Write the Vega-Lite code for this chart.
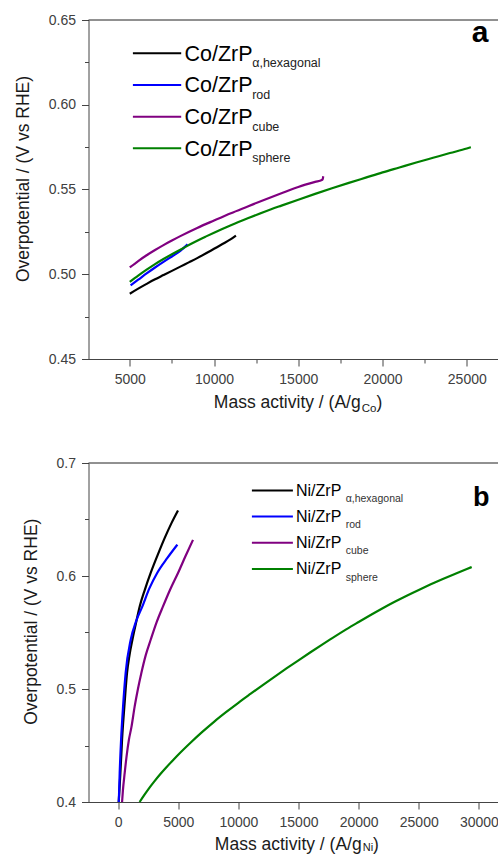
{
  "$schema": "https://vega.github.io/schema/vega-lite/v6.json",
  "padding": {"left": 13.5, "top": 13, "right": 0, "bottom": 0},
  "spacing": 41,
  "config": {
    "view": {"stroke": null},
    "font": "Liberation Sans",
    "axis": {
      "grid": false,
      "labelFont": "Liberation Sans",
      "labelFontSize": 14,
      "labelColor": "#404040",
      "labelPadding": 6,
      "labelFlush": false,
      "labelOverlap": false,
      "domainColor": "#444444",
      "tickColor": "#444444",
      "titleFont": "Liberation Sans",
      "titleFontSize": 17.5,
      "titleFontWeight": "normal",
      "titleColor": "#1a1a1a",
      "titlePadding": 16
    }
  },
  "datasets": {
    "one": [{}],
    "curvesA": [
      {"sample": "hexagonal", "mass": 5000, "eta": 0.4885},
      {"sample": "hexagonal", "mass": 5500, "eta": 0.4915},
      {"sample": "hexagonal", "mass": 6000, "eta": 0.4943},
      {"sample": "hexagonal", "mass": 6500, "eta": 0.497},
      {"sample": "hexagonal", "mass": 7000, "eta": 0.4995},
      {"sample": "hexagonal", "mass": 7500, "eta": 0.502},
      {"sample": "hexagonal", "mass": 8000, "eta": 0.5045},
      {"sample": "hexagonal", "mass": 8500, "eta": 0.507},
      {"sample": "hexagonal", "mass": 9000, "eta": 0.5095},
      {"sample": "hexagonal", "mass": 9500, "eta": 0.5122},
      {"sample": "hexagonal", "mass": 10000, "eta": 0.515},
      {"sample": "hexagonal", "mass": 10500, "eta": 0.5178},
      {"sample": "hexagonal", "mass": 11000, "eta": 0.5207},
      {"sample": "hexagonal", "mass": 11300, "eta": 0.5228},
      {"sample": "rod", "mass": 5050, "eta": 0.4935},
      {"sample": "rod", "mass": 5500, "eta": 0.4968},
      {"sample": "rod", "mass": 6000, "eta": 0.5005},
      {"sample": "rod", "mass": 6500, "eta": 0.504},
      {"sample": "rod", "mass": 7000, "eta": 0.5073},
      {"sample": "rod", "mass": 7500, "eta": 0.5105},
      {"sample": "rod", "mass": 8000, "eta": 0.5138},
      {"sample": "rod", "mass": 8430, "eta": 0.5176},
      {"sample": "cube", "mass": 5000, "eta": 0.504},
      {"sample": "cube", "mass": 5500, "eta": 0.5078},
      {"sample": "cube", "mass": 6000, "eta": 0.5112},
      {"sample": "cube", "mass": 6500, "eta": 0.5143},
      {"sample": "cube", "mass": 7000, "eta": 0.5172},
      {"sample": "cube", "mass": 7500, "eta": 0.5199},
      {"sample": "cube", "mass": 8000, "eta": 0.5225},
      {"sample": "cube", "mass": 9000, "eta": 0.5273},
      {"sample": "cube", "mass": 10000, "eta": 0.5317},
      {"sample": "cube", "mass": 11000, "eta": 0.536},
      {"sample": "cube", "mass": 12000, "eta": 0.54},
      {"sample": "cube", "mass": 13000, "eta": 0.544},
      {"sample": "cube", "mass": 14000, "eta": 0.5478},
      {"sample": "cube", "mass": 15000, "eta": 0.5515},
      {"sample": "cube", "mass": 16000, "eta": 0.5545},
      {"sample": "cube", "mass": 16400, "eta": 0.5556},
      {"sample": "cube", "mass": 16450, "eta": 0.5562},
      {"sample": "cube", "mass": 16480, "eta": 0.5578},
      {"sample": "sphere", "mass": 5000, "eta": 0.4955},
      {"sample": "sphere", "mass": 5500, "eta": 0.4992},
      {"sample": "sphere", "mass": 6000, "eta": 0.5027},
      {"sample": "sphere", "mass": 6500, "eta": 0.506},
      {"sample": "sphere", "mass": 7000, "eta": 0.509},
      {"sample": "sphere", "mass": 7500, "eta": 0.5118},
      {"sample": "sphere", "mass": 8000, "eta": 0.5145},
      {"sample": "sphere", "mass": 8500, "eta": 0.5172},
      {"sample": "sphere", "mass": 9000, "eta": 0.5198},
      {"sample": "sphere", "mass": 9500, "eta": 0.5222},
      {"sample": "sphere", "mass": 10000, "eta": 0.5245},
      {"sample": "sphere", "mass": 11000, "eta": 0.5289},
      {"sample": "sphere", "mass": 12000, "eta": 0.533},
      {"sample": "sphere", "mass": 13000, "eta": 0.5369},
      {"sample": "sphere", "mass": 14000, "eta": 0.5405},
      {"sample": "sphere", "mass": 15000, "eta": 0.544},
      {"sample": "sphere", "mass": 16000, "eta": 0.5474},
      {"sample": "sphere", "mass": 17000, "eta": 0.5507},
      {"sample": "sphere", "mass": 18000, "eta": 0.5539},
      {"sample": "sphere", "mass": 19000, "eta": 0.557},
      {"sample": "sphere", "mass": 20000, "eta": 0.5601},
      {"sample": "sphere", "mass": 21000, "eta": 0.563},
      {"sample": "sphere", "mass": 22000, "eta": 0.5659},
      {"sample": "sphere", "mass": 23000, "eta": 0.5687},
      {"sample": "sphere", "mass": 24000, "eta": 0.5715},
      {"sample": "sphere", "mass": 25000, "eta": 0.5742},
      {"sample": "sphere", "mass": 25240, "eta": 0.575}
    ],
    "curvesB": [
      {"sample": "hexagonal", "mass": 50, "eta": 0.4},
      {"sample": "hexagonal", "mass": 120, "eta": 0.412},
      {"sample": "hexagonal", "mass": 191, "eta": 0.4257},
      {"sample": "hexagonal", "mass": 260, "eta": 0.44},
      {"sample": "hexagonal", "mass": 330, "eta": 0.4551},
      {"sample": "hexagonal", "mass": 420, "eta": 0.47},
      {"sample": "hexagonal", "mass": 523, "eta": 0.4846},
      {"sample": "hexagonal", "mass": 630, "eta": 0.5},
      {"sample": "hexagonal", "mass": 745, "eta": 0.5142},
      {"sample": "hexagonal", "mass": 950, "eta": 0.53},
      {"sample": "hexagonal", "mass": 1190, "eta": 0.5436},
      {"sample": "hexagonal", "mass": 1480, "eta": 0.558},
      {"sample": "hexagonal", "mass": 1797, "eta": 0.5731},
      {"sample": "hexagonal", "mass": 2230, "eta": 0.588},
      {"sample": "hexagonal", "mass": 2710, "eta": 0.6027},
      {"sample": "hexagonal", "mass": 3270, "eta": 0.618},
      {"sample": "hexagonal", "mass": 3870, "eta": 0.6335},
      {"sample": "hexagonal", "mass": 4450, "eta": 0.647},
      {"sample": "hexagonal", "mass": 4983, "eta": 0.658},
      {"sample": "rod", "mass": 60, "eta": 0.4},
      {"sample": "rod", "mass": 133, "eta": 0.4257},
      {"sample": "rod", "mass": 250, "eta": 0.4551},
      {"sample": "rod", "mass": 415, "eta": 0.4846},
      {"sample": "rod", "mass": 630, "eta": 0.5142},
      {"sample": "rod", "mass": 1050, "eta": 0.5436},
      {"sample": "rod", "mass": 1500, "eta": 0.56},
      {"sample": "rod", "mass": 2020, "eta": 0.5731},
      {"sample": "rod", "mass": 2600, "eta": 0.589},
      {"sample": "rod", "mass": 3250, "eta": 0.6027},
      {"sample": "rod", "mass": 4100, "eta": 0.616},
      {"sample": "rod", "mass": 4925, "eta": 0.6277},
      {"sample": "cube", "mass": 332, "eta": 0.4},
      {"sample": "cube", "mass": 400, "eta": 0.41},
      {"sample": "cube", "mass": 550, "eta": 0.4257},
      {"sample": "cube", "mass": 700, "eta": 0.44},
      {"sample": "cube", "mass": 900, "eta": 0.4551},
      {"sample": "cube", "mass": 1105, "eta": 0.466},
      {"sample": "cube", "mass": 1380, "eta": 0.4846},
      {"sample": "cube", "mass": 1650, "eta": 0.5},
      {"sample": "cube", "mass": 1935, "eta": 0.5142},
      {"sample": "cube", "mass": 2300, "eta": 0.53},
      {"sample": "cube", "mass": 2710, "eta": 0.5436},
      {"sample": "cube", "mass": 3200, "eta": 0.559},
      {"sample": "cube", "mass": 3735, "eta": 0.5731},
      {"sample": "cube", "mass": 4350, "eta": 0.5885},
      {"sample": "cube", "mass": 4983, "eta": 0.6027},
      {"sample": "cube", "mass": 5600, "eta": 0.6175},
      {"sample": "cube", "mass": 6229, "eta": 0.632},
      {"sample": "sphere", "mass": 1790, "eta": 0.4},
      {"sample": "sphere", "mass": 2200, "eta": 0.4065},
      {"sample": "sphere", "mass": 2600, "eta": 0.4125},
      {"sample": "sphere", "mass": 3000, "eta": 0.418},
      {"sample": "sphere", "mass": 3500, "eta": 0.4245},
      {"sample": "sphere", "mass": 4000, "eta": 0.4305},
      {"sample": "sphere", "mass": 4500, "eta": 0.4362},
      {"sample": "sphere", "mass": 5000, "eta": 0.4418},
      {"sample": "sphere", "mass": 6000, "eta": 0.4522},
      {"sample": "sphere", "mass": 7000, "eta": 0.462},
      {"sample": "sphere", "mass": 8000, "eta": 0.4712},
      {"sample": "sphere", "mass": 9000, "eta": 0.4797},
      {"sample": "sphere", "mass": 10000, "eta": 0.4878},
      {"sample": "sphere", "mass": 11000, "eta": 0.4956},
      {"sample": "sphere", "mass": 12000, "eta": 0.5033},
      {"sample": "sphere", "mass": 13000, "eta": 0.5108},
      {"sample": "sphere", "mass": 14000, "eta": 0.5182},
      {"sample": "sphere", "mass": 15000, "eta": 0.5254},
      {"sample": "sphere", "mass": 16000, "eta": 0.5325},
      {"sample": "sphere", "mass": 17000, "eta": 0.5395},
      {"sample": "sphere", "mass": 17700, "eta": 0.5443},
      {"sample": "sphere", "mass": 19000, "eta": 0.553},
      {"sample": "sphere", "mass": 20000, "eta": 0.5593},
      {"sample": "sphere", "mass": 21000, "eta": 0.5655},
      {"sample": "sphere", "mass": 22000, "eta": 0.5715},
      {"sample": "sphere", "mass": 23000, "eta": 0.5772},
      {"sample": "sphere", "mass": 24000, "eta": 0.5826},
      {"sample": "sphere", "mass": 25000, "eta": 0.5877},
      {"sample": "sphere", "mass": 26000, "eta": 0.5926},
      {"sample": "sphere", "mass": 27000, "eta": 0.5973},
      {"sample": "sphere", "mass": 28000, "eta": 0.6018},
      {"sample": "sphere", "mass": 29000, "eta": 0.6062},
      {"sample": "sphere", "mass": 29400, "eta": 0.6079}
    ],
    "legendA": [
      {"sample": "hexagonal", "main": "Co/ZrP", "sub": "α,hexagonal"},
      {"sample": "rod", "main": "Co/ZrP", "sub": "rod"},
      {"sample": "cube", "main": "Co/ZrP", "sub": "cube"},
      {"sample": "sphere", "main": "Co/ZrP", "sub": "sphere"}
    ],
    "legendB": [
      {"sample": "hexagonal", "main": "Ni/ZrP", "sub": "α,hexagonal"},
      {"sample": "rod", "main": "Ni/ZrP", "sub": "rod"},
      {"sample": "cube", "main": "Ni/ZrP", "sub": "cube"},
      {"sample": "sphere", "main": "Ni/ZrP", "sub": "sphere"}
    ]
  },
  "vconcat": [
    {
      "width": 410,
      "height": 339,
      "resolve": {"scale": {"y": "independent"}},
      "layer": [
        {
          "layer": [
            {
              "data": {"name": "curvesA"},
              "mark": {"type": "line", "strokeWidth": 2.2, "interpolate": "monotone"},
              "encoding": {
                "x": {
                  "field": "mass", "type": "quantitative",
                  "scale": {"domain": [2550, 26882], "nice": false, "zero": false},
                  "axis": {
                    "title": null,
                    "values": [5000, 7500, 10000, 12500, 15000, 17500, 20000, 22500, 25000],
                    "format": "d",
                    "labelExpr": "datum.value % 5000 == 0 ? datum.label : ''",
                    "tickSize": {"condition": {"test": "datum.value % 5000 != 0", "value": 4}, "value": 7}
                  }
                },
                "y": {
                  "field": "eta", "type": "quantitative",
                  "scale": {"domain": [0.45, 0.65], "nice": false, "zero": false},
                  "axis": {
                    "title": "Overpotential / (V vs RHE)",
                    "titleY": 158.5,
                    "values": [0.45, 0.475, 0.5, 0.525, 0.55, 0.575, 0.6, 0.625, 0.65],
                    "format": ".2f",
                    "labelExpr": "round(datum.value * 1000) % 50 == 0 ? datum.label : ''",
                    "tickSize": {"condition": {"test": "round(datum.value * 1000) % 50 != 0", "value": 4}, "value": 7}
                  }
                },
                "color": {
                  "field": "sample", "type": "nominal",
                  "scale": {"domain": ["hexagonal", "rod", "cube", "sphere"], "range": ["#000000", "#0000ff", "#800080", "#008000"]},
                  "legend": null
                }
              }
            },
            {
              "data": {"name": "one"},
              "mark": {"type": "rule", "color": "#222222", "strokeWidth": 1},
              "encoding": {"y": {"datum": 0.65}}
            },
            {
              "data": {"name": "one"},
              "mark": {"type": "text", "text": "a", "fontSize": 30, "fontWeight": "bold", "align": "center", "baseline": "alphabetic", "color": "#000000"},
              "encoding": {"x": {"datum": 25796}, "y": {"datum": 0.6372}}
            },
            {
              "data": {"name": "one"},
              "mark": {"type": "text", "text": "Mass activity / (A/g", "fontSize": 17.5, "align": "right", "baseline": "alphabetic", "dy": 48.7, "color": "#1a1a1a"},
              "encoding": {"x": {"datum": 18704}, "y": {"datum": 0.45}}
            },
            {
              "data": {"name": "one"},
              "mark": {"type": "text", "text": "Co", "fontSize": 11.5, "align": "left", "baseline": "alphabetic", "dy": 53.4, "color": "#1a1a1a"},
              "encoding": {"x": {"datum": 18763}, "y": {"datum": 0.45}}
            },
            {
              "data": {"name": "one"},
              "mark": {"type": "text", "text": ")", "fontSize": 17.5, "align": "left", "baseline": "alphabetic", "dy": 48.7, "color": "#1a1a1a"},
              "encoding": {"x": {"datum": 19636}, "y": {"datum": 0.45}}
            }
          ]
        },
        {
          "data": {"name": "legendA"},
          "encoding": {
            "y": {
              "field": "sample", "type": "nominal",
              "scale": {"type": "point", "domain": ["hexagonal", "rod", "cube", "sphere"], "range": [33.3, 128.3], "padding": 0},
              "axis": null
            }
          },
          "layer": [
            {
              "mark": {"type": "rule", "strokeWidth": 2},
              "encoding": {
                "x": {"datum": 5185},
                "x2": {"datum": 8051},
                "color": {"field": "sample", "type": "nominal", "legend": null}
              }
            },
            {
              "mark": {"type": "text", "align": "left", "baseline": "alphabetic", "dy": 7.4, "fontSize": 21.5, "color": "#000000"},
              "encoding": {"x": {"datum": 8247}, "text": {"field": "main"}}
            },
            {
              "mark": {"type": "text", "align": "left", "baseline": "alphabetic", "dy": 14, "fontSize": 12.5, "color": "#222222"},
              "encoding": {"x": {"datum": 12265}, "text": {"field": "sub"}}
            }
          ]
        }
      ]
    },
    {
      "width": 410,
      "height": 339,
      "resolve": {"scale": {"y": "independent"}},
      "layer": [
        {
          "layer": [
            {
              "data": {"name": "curvesB"},
              "mark": {"type": "line", "strokeWidth": 2.2, "interpolate": "monotone"},
              "encoding": {
                "x": {
                  "field": "mass", "type": "quantitative",
                  "scale": {"domain": [-2460, 31630], "nice": false, "zero": false},
                  "axis": {
                    "title": null,
                    "values": [0, 2500, 5000, 7500, 10000, 12500, 15000, 17500, 20000, 22500, 25000, 27500, 30000],
                    "format": "d",
                    "labelExpr": "datum.value % 5000 == 0 ? datum.label : ''",
                    "tickSize": {"condition": {"test": "datum.value % 5000 != 0", "value": 4}, "value": 7}
                  }
                },
                "y": {
                  "field": "eta", "type": "quantitative",
                  "scale": {"domain": [0.4, 0.7], "nice": false, "zero": false},
                  "axis": {
                    "title": "Overpotential / (V vs RHE)",
                    "titleY": 158.2,
                    "values": [0.4, 0.45, 0.5, 0.55, 0.6, 0.65, 0.7],
                    "format": ".1f",
                    "labelExpr": "round(datum.value * 100) % 10 == 0 ? datum.label : ''",
                    "tickSize": {"condition": {"test": "round(datum.value * 100) % 10 != 0", "value": 4}, "value": 7}
                  }
                },
                "color": {
                  "field": "sample", "type": "nominal",
                  "scale": {"domain": ["hexagonal", "rod", "cube", "sphere"], "range": ["#000000", "#0000ff", "#800080", "#008000"]},
                  "legend": null
                }
              }
            },
            {
              "data": {"name": "one"},
              "mark": {"type": "rule", "color": "#222222", "strokeWidth": 1},
              "encoding": {"y": {"datum": 0.7}}
            },
            {
              "data": {"name": "one"},
              "mark": {"type": "text", "text": "b", "fontSize": 27, "fontWeight": "bold", "align": "center", "baseline": "alphabetic", "color": "#000000"},
              "encoding": {"x": {"datum": 30191}, "y": {"datum": 0.6616}}
            },
            {
              "data": {"name": "one"},
              "mark": {"type": "text", "text": "Mass activity / (A/g", "fontSize": 17.5, "align": "right", "baseline": "alphabetic", "dy": 47.5, "color": "#1a1a1a"},
              "encoding": {"x": {"datum": 20255}, "y": {"datum": 0.4}}
            },
            {
              "data": {"name": "one"},
              "mark": {"type": "text", "text": "Ni", "fontSize": 11, "align": "left", "baseline": "alphabetic", "dy": 49.3, "color": "#1a1a1a"},
              "encoding": {"x": {"datum": 20338}, "y": {"datum": 0.4}}
            },
            {
              "data": {"name": "one"},
              "mark": {"type": "text", "text": ")", "fontSize": 17.5, "align": "left", "baseline": "alphabetic", "dy": 47.5, "color": "#1a1a1a"},
              "encoding": {"x": {"datum": 21200}, "y": {"datum": 0.4}}
            }
          ]
        },
        {
          "data": {"name": "legendB"},
          "encoding": {
            "y": {
              "field": "sample", "type": "nominal",
              "scale": {"type": "point", "domain": ["hexagonal", "rod", "cube", "sphere"], "range": [27.4, 106], "padding": 0},
              "axis": null
            }
          },
          "layer": [
            {
              "mark": {"type": "rule", "strokeWidth": 2},
              "encoding": {
                "x": {"datum": 11126},
                "x2": {"datum": 14535},
                "color": {"field": "sample", "type": "nominal", "legend": null}
              }
            },
            {
              "mark": {"type": "text", "align": "left", "baseline": "alphabetic", "dy": 5.3, "fontSize": 16, "color": "#000000"},
              "encoding": {"x": {"datum": 14793}, "text": {"field": "main"}}
            },
            {
              "mark": {"type": "text", "align": "left", "baseline": "alphabetic", "dy": 11.6, "fontSize": 10.5, "color": "#333333"},
              "encoding": {"x": {"datum": 18925}, "text": {"field": "sub"}}
            }
          ]
        }
      ]
    }
  ]
}
